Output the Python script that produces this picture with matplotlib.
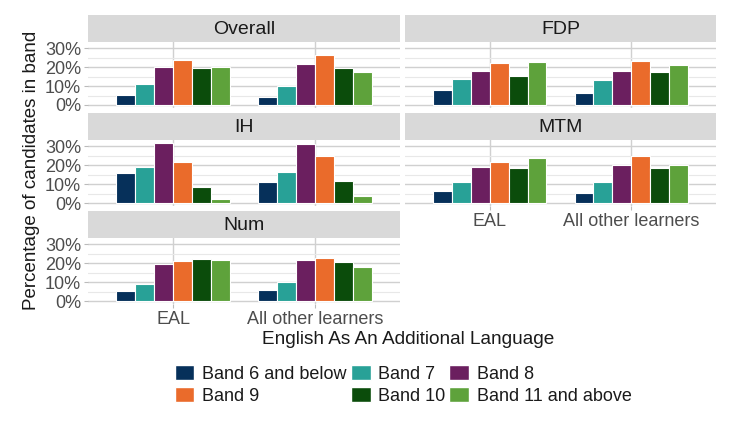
import matplotlib
matplotlib.use("Agg")
import matplotlib.pyplot as plt
import numpy as np
from matplotlib.patches import Patch
from matplotlib.ticker import FixedLocator

plt.rcParams['font.family'] = ['Liberation Sans', 'DejaVu Sans']

groups = ['EAL', 'All other learners']
bands = ['Band 6 and below', 'Band 7', 'Band 8', 'Band 9', 'Band 10', 'Band 11 and above']
colors = ['#06305a', '#28a197', '#6b1f5f', '#ea6b2b', '#0b4c0b', '#5ea23b']

# percentage of candidates per band, [EAL, All other learners]
overall = [[5.1, 11.2, 20.1, 23.6, 19.5, 19.9], [4.4, 10.3, 21.5, 26.4, 19.5, 17.5]]
fdp = [[7.9, 14.0, 17.8, 22.0, 15.4, 23.0], [6.6, 13.3, 18.2, 23.4, 17.3, 21.1]]
ih = [[16.1, 19.3, 31.8, 21.6, 8.6, 2.1], [11.2, 16.5, 31.1, 25.1, 11.8, 3.5]]
mtm = [[6.1, 10.9, 19.1, 21.8, 18.6, 23.7], [5.1, 10.9, 20.2, 24.7, 18.8, 20.4]]
num = [[5.1, 8.8, 19.6, 21.2, 22.5, 21.8], [6.0, 10.2, 21.8, 22.6, 20.7, 18.1]]

facets = [('Overall', overall, 0, 0), ('FDP', fdp, 0, 1),
          ('IH', ih, 1, 0), ('MTM', mtm, 1, 1), ('Num', num, 2, 0)]
bottom_of_col = {0: 2, 1: 1}

W, H = 732, 428
fig = plt.figure(figsize=(W / 100, H / 100), dpi=100)

col_x = [(88, 400), (405, 716)]
strip_h, plot_h, pitch, top0 = 27, 66, 98, 15

ymax = max(max(max(g) for g in f[1]) for f in facets)
ylo, yhi = -0.05 * ymax, 1.05 * ymax

def px_axes(x0, y0, x1, y1):
    return fig.add_axes([x0 / W, 1 - y1 / H, (x1 - x0) / W, (y1 - y0) / H])

slot = 0.8 / len(bands)
xpos = np.arange(1, len(groups) + 1)

for name, data, r, c in facets:
    x0, x1 = col_x[c]
    st = top0 + pitch * r
    sax = px_axes(x0, st, x1, st + strip_h)
    sax.set_facecolor('#d9d9d9')
    sax.set_xticks([]); sax.set_yticks([])
    for s in sax.spines.values():
        s.set_visible(False)
    sax.text(0.5, 0.48, name, ha='center', va='center', fontsize=14,
             color='#1a1a1a', transform=sax.transAxes)

    ax = px_axes(x0, st + strip_h, x1, st + strip_h + plot_h)
    vals = np.array(data)
    for i, band in enumerate(bands):
        ax.bar(xpos - 0.4 + slot * (i + 0.5), vals[:, i], width=slot,
               color=colors[i], edgecolor='white', linewidth=0.8, zorder=3)
    ax.set_xlim(0.4, len(groups) + 0.6)
    ax.set_ylim(ylo, yhi)
    ax.yaxis.set_major_locator(FixedLocator([0, 10, 20, 30]))
    ax.yaxis.set_minor_locator(FixedLocator([5, 15, 25]))
    ax.set_xticks(xpos)
    ax.grid(axis='y', which='major', color='#d0d0d0', linewidth=1.0, zorder=0)
    ax.grid(axis='y', which='minor', color='#e8e8e8', linewidth=0.8, zorder=0)
    ax.grid(axis='x', which='major', color='#d0d0d0', linewidth=1.0, zorder=0)
    for s in ax.spines.values():
        s.set_visible(False)
    ax.tick_params(which='minor', length=0)
    if c == 0:
        ax.set_yticklabels(['0%', '10%', '20%', '30%'])
        ax.tick_params(axis='y', which='major', length=3, color='#bbbbbb',
                       labelsize=13, labelcolor='#4d4d4d', pad=2)
    else:
        ax.tick_params(axis='y', which='major', length=0, labelleft=False)
    if r == bottom_of_col[c]:
        ax.set_xticklabels(groups)
        ax.tick_params(axis='x', length=3, color='#bbbbbb', labelsize=13,
                       labelcolor='#4d4d4d', pad=2)
    else:
        ax.tick_params(axis='x', length=0, labelbottom=False)

fig.text(32 / W, 1 - 170 / H, 'Percentage of candidates in band', rotation=90,
         ha='center', va='center', fontsize=13.5, color='#1a1a1a')
fig.text(408 / W, 1 - 340 / H, 'English As An Additional Language',
         ha='center', va='center', fontsize=13.7, color='#1a1a1a')

handles = [Patch(facecolor=colors[i], edgecolor='white', label=bands[i]) for i in range(6)]
order = [0, 3, 1, 4, 2, 5]
fig.legend([handles[i] for i in order], [bands[i] for i in order], ncol=3,
           loc='center', bbox_to_anchor=(403 / W, 1 - 385 / H), frameon=False,
           fontsize=13, handlelength=1.1, handleheight=0.9, handletextpad=0.4,
           columnspacing=0.25, labelspacing=0.25, labelcolor='#1a1a1a',
           borderpad=0.2)

fig.savefig('out.png', dpi=100)
